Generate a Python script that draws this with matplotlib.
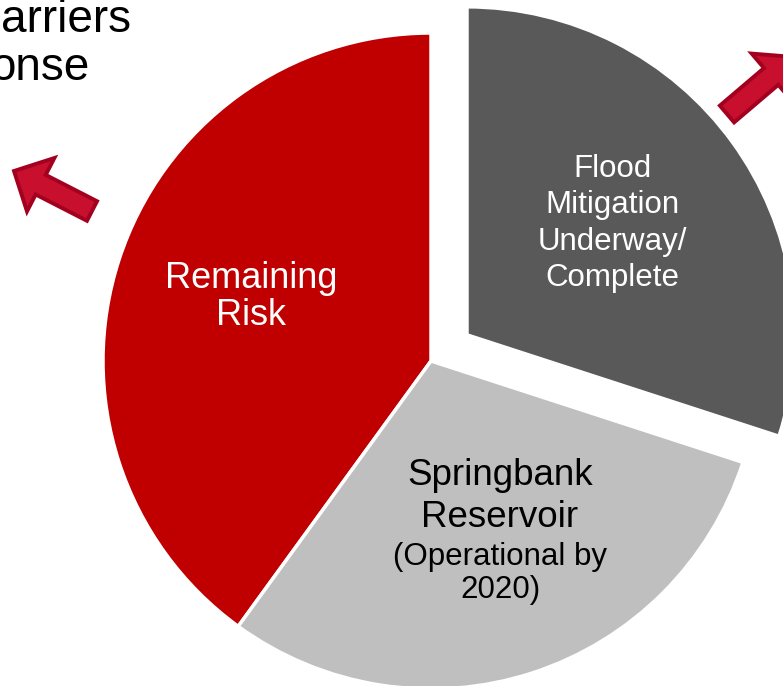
import matplotlib.pyplot as plt
from matplotlib.patches import FancyArrow

plt.rcParams['font.family'] = ['Liberation Sans', 'DejaVu Sans']

# slice data (percent of risk)
categories = ["Remaining Risk", "Springbank Reservoir", "Flood Mitigation Underway/Complete"]
values = [40, 30, 30]
colors = ["#C00000", "#BFBFBF", "#595959"]

W, H = 783, 686
R = 328
# pie explode is in data units here (pixels), so pull the dark slice out ~44px
explode = [0, 0, 44.5]

fig = plt.figure(figsize=(W / 100, H / 100), dpi=100)
ax = fig.add_axes([0, 0, 1, 1])

ax.pie(values, colors=colors, explode=explode, startangle=90, counterclock=True,
       center=(431, H - 361), radius=R,
       wedgeprops=dict(edgecolor="white", linewidth=2.5))

ax.set_xlim(0, W)
ax.set_ylim(0, H)
ax.set_aspect("equal")
ax.axis("off")

# labels inside the slices (baseline = last line)
ax.text(251, H - 325, "Remaining\nRisk", color="white", fontsize=26,
        ha="center", va="baseline", linespacing=1.08)
ax.text(612, H - 286, "Flood\nMitigation\nUnderway/\nComplete", color="white",
        fontsize=22.5, ha="center", va="baseline", linespacing=1.28)
ax.text(500, H - 527, "Springbank\nReservoir", color="black", fontsize=26.5,
        ha="center", va="baseline", linespacing=1.25)
ax.text(500, H - 598, "(Operational by\n2020)", color="black", fontsize=22.5,
        ha="center", va="baseline", linespacing=1.12)

# title fragments cut by the slide crop
ax.text(131, H - 32, "arriers", fontsize=33, ha="right", va="baseline")
ax.text(89, H - 80, "onse", fontsize=33, ha="right", va="baseline")

# red block arrows
arrow_kw = dict(width=22, head_width=60, head_length=30, length_includes_head=True,
                fc="#C8102E", ec="#A3001F", lw=2.8)
ax.add_patch(FancyArrow(92, H - 211, -78, 40, **arrow_kw))
ax.add_patch(FancyArrow(727, H - 114, 67, 57, **arrow_kw))

fig.savefig("out.png", dpi=100)
